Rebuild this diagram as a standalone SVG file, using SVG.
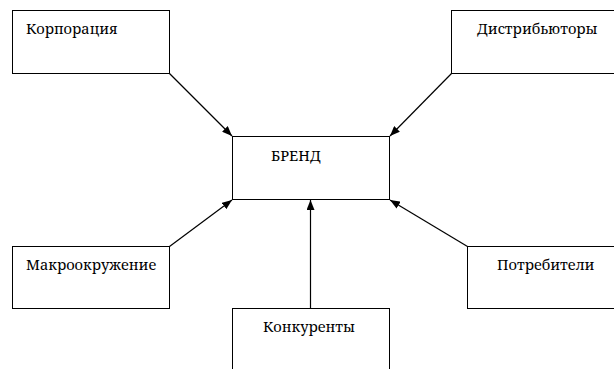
<svg xmlns="http://www.w3.org/2000/svg" width="614" height="369" viewBox="0 0 614 369">
<style>
.box{fill:#fff;stroke:#000;stroke-width:1}
.t{font-family:"Noto Serif","Liberation Serif","DejaVu Serif",serif;font-size:14.6px;fill:#000}
.c{stroke:#000;stroke-width:1.2;fill:none;marker-end:url(#ah)}
</style>
<defs>
<marker id="ah" viewBox="0 0 10 8" refX="10" refY="4" markerWidth="10" markerHeight="8" markerUnits="userSpaceOnUse" orient="auto">
<path d="M0,0 L10,4 L0,8 z" fill="#000"/>
</marker>
</defs>
<rect width="614" height="369" fill="#fff"/>
<g id="korporaciya"><rect class="box" x="12.5" y="10.5" width="157" height="63"/><text class="t" x="26" y="34">Корпорация</text></g>
<g id="distributory"><rect class="box" x="451.5" y="10.5" width="170" height="63"/><text class="t" x="477" y="34">Дистрибьюторы</text></g>
<g id="brend"><rect class="box" x="232.5" y="136.5" width="157" height="63"/><text class="t" x="271" y="161">БРЕНД</text></g>
<g id="makrookruzhenie"><rect class="box" x="12.5" y="246.5" width="157" height="62"/><text class="t" x="26" y="270">Макроокружение</text></g>
<g id="konkurenty"><rect class="box" x="232.5" y="308.5" width="157" height="70"/><text class="t" x="263" y="332">Конкуренты</text></g>
<g id="potrebiteli"><rect class="box" x="467.5" y="246.5" width="160" height="62"/><text class="t" x="497" y="270">Потребители</text></g>
<g id="connectors">
<line class="c" x1="169.5" y1="73.5" x2="232" y2="136"/>
<line class="c" x1="451.5" y1="73.5" x2="390" y2="136"/>
<line class="c" x1="169.5" y1="246.5" x2="232" y2="200"/>
<line class="c" x1="310.5" y1="308.5" x2="310.5" y2="200"/>
<line class="c" x1="467.5" y1="246.5" x2="390" y2="200"/>
</g>
</svg>
